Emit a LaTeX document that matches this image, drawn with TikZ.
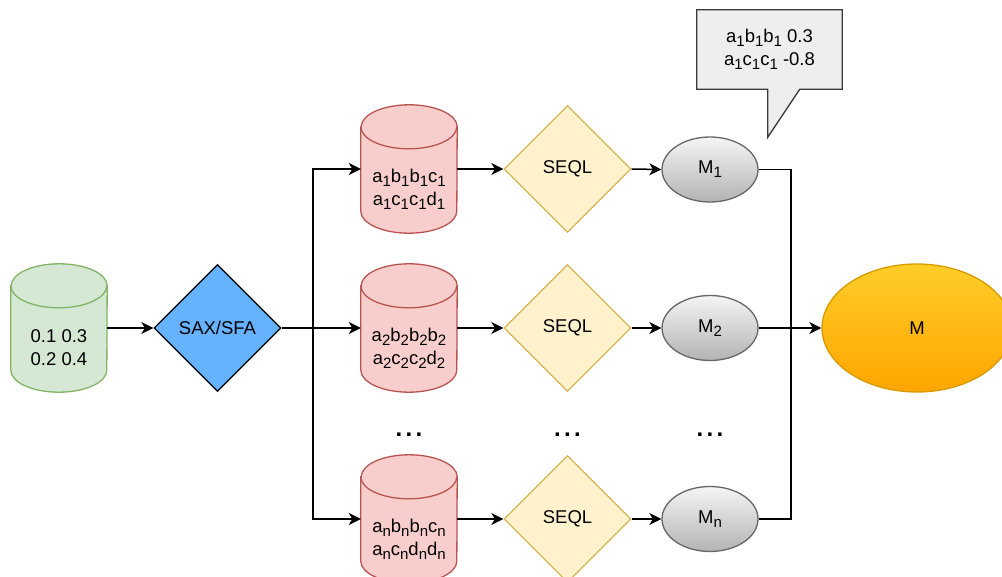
\documentclass[tikz,border=0pt]{standalone}
\usepackage{fontspec}
\setmainfont{Liberation Sans}
\usetikzlibrary{shapes.geometric,arrows.meta,calc}
\definecolor{gfill}{HTML}{D5E8D4}\definecolor{gdraw}{HTML}{82B366}
\definecolor{rfill}{HTML}{F8CECC}\definecolor{rdraw}{HTML}{B85450}
\definecolor{yfill}{HTML}{FFF2CC}\definecolor{ydraw}{HTML}{D6B656}
\definecolor{bfill}{HTML}{66B2FF}
\definecolor{mtop}{HTML}{F5F5F5}\definecolor{mbot}{HTML}{B3B3B3}\definecolor{mdraw}{HTML}{666666}
\definecolor{otop}{HTML}{FFCD28}\definecolor{obot}{HTML}{FFA500}\definecolor{odraw}{HTML}{D79B00}
\definecolor{cfill}{HTML}{EEEEEE}\definecolor{cdraw}{HTML}{36393D}
\newcommand\lsub[1]{\raisebox{-4pt}{\fontsize{15}{15}\selectfont #1}}
\newcommand\cyl[6]{%
  \node[cylbox] (#1) at (#2,#3) {};
  \path[fill=#4,draw=#5,shape line] ($(#1.north west)+(0,22)$) -- ($(#1.south west)+(0,-22)$)
    arc[start angle=180,end angle=360,x radius=48pt,y radius=22pt]
    -- ($(#1.north east)+(0,22)$)
    arc[start angle=0,end angle=180,x radius=48pt,y radius=22pt] -- cycle;
  \draw[#5,shape line] ($(#1.north west)+(0,22)$) arc[start angle=180,end angle=360,x radius=48pt,y radius=22pt];
  \node[txt] (#1t) at ($(#1)+(0,20)$) {#6};
}
\tikzset{
  shape line/.style={line width=1.3pt},
  cylbox/.style={rectangle,draw=none,inner sep=0,minimum width=96pt,minimum height=128pt},
  txt/.style={inner sep=0,align=center,font=\fontsize{18.5}{23}\selectfont},
  dia/.style={diamond,inner sep=0,minimum width=127pt,minimum height=127pt,shape line,font=\fontsize{18.5}{23}\selectfont},
  model/.style={ellipse,inner sep=0,minimum width=96pt,minimum height=65pt,draw=mdraw,top color=mtop,bottom color=mbot,shape line,font=\fontsize{18.5}{23}\selectfont},
  arr/.style={-{Stealth[length=12pt,width=12pt,inset=3.5pt]},line width=1.5pt},
  conn/.style={line width=1.5pt},
  dots/.style={inner sep=0,font=\fontsize{24}{24}\selectfont\bfseries}
}
\begin{document}
\begin{tikzpicture}[x=1pt,y=-1pt]
\useasboundingbox (0,0) rectangle (1002,577);
\clip (0,0) rectangle (1002,577);
% input
\cyl{g}{59}{328}{gfill}{gdraw}{0.1 0.3\\0.2 0.4}
\node[dia,draw=black,fill=bfill] (sax) at (217.5,328) {SAX/SFA};
% rows
\cyl{c1}{409}{169}{rfill}{rdraw}{a\lsub{1}b\lsub{1}b\lsub{1}c\lsub{1}\\a\lsub{1}c\lsub{1}c\lsub{1}d\lsub{1}}
\cyl{c2}{409}{328}{rfill}{rdraw}{a\lsub{2}b\lsub{2}b\lsub{2}b\lsub{2}\\a\lsub{2}c\lsub{2}c\lsub{2}d\lsub{2}}
\cyl{cn}{409}{519}{rfill}{rdraw}{a\lsub{n}b\lsub{n}b\lsub{n}c\lsub{n}\\a\lsub{n}c\lsub{n}d\lsub{n}d\lsub{n}}
\node[dia,draw=ydraw,fill=yfill] (q1) at (567.5,169) {SEQL};
\node[dia,draw=ydraw,fill=yfill] (q2) at (567.5,328) {SEQL};
\node[dia,draw=ydraw,fill=yfill] (qn) at (567.5,519) {SEQL};
\node[model] (m1) at (710,169.5) {M\lsub{1}};
\node[model] (m2) at (710,328) {M\lsub{2}};
\node[model] (mn) at (710,519) {M\lsub{n}};
\node[ellipse,inner sep=0,minimum width=190pt,minimum height=128pt,draw=odraw,top color=otop,bottom color=obot,shape line,font=\fontsize{18.5}{23}\selectfont] (M) at (917,328) {M};
% dots
\node[dots] (d1) at (409,435) {.\hspace{3.3pt}.\hspace{3.3pt}.};
\node[dots] (d2) at (567.5,435) {.\hspace{3.3pt}.\hspace{3.3pt}.};
\node[dots] (d3) at (710,435) {.\hspace{3.3pt}.\hspace{3.3pt}.};
% callout
\node[rectangle,inner sep=0,minimum width=145pt,minimum height=79pt] (call) at (769.5,49.5) {};
\path[fill=cfill,draw=cdraw,shape line] (call.north west) -- (call.north east) -- (call.south east)
  -- ($(call.south west)+(103,0)$) coordinate (tr) -- ($(call.south west)+(71,48)$) coordinate (tip)
  -- ($(call.south west)+(71,0)$) coordinate (tl) -- (call.south west) -- cycle;
\node[txt] (callt) at (call) {a\lsub{1}b\lsub{1}b\lsub{1} 0.3\\a\lsub{1}c\lsub{1}c\lsub{1} -0.8};
% connectors
\coordinate (sp) at (313,328);
\coordinate (jn) at (791,328);
\draw[arr] (g.east) -- (sax.west);
\draw[conn] (sax.east) -- (sp);
\draw[arr] (sp) |- (c1.west);
\draw[arr] (sp) -- (c2.west);
\draw[arr] (sp) |- (cn.west);
\draw[arr] (c1.east) -- (q1.west);
\draw[arr] (c2.east) -- (q2.west);
\draw[arr] (cn.east) -- (qn.west);
\draw[arr] (q1.east) -- (m1.west);
\draw[arr] (q2.east) -- (m2.west);
\draw[arr] (qn.east) -- (mn.west);
\draw[conn] (m1.east) -| (jn);
\draw[conn] (mn.east) -| (jn);
\draw[arr] (m2.east) -- (M.west);
\end{tikzpicture}
\end{document}
